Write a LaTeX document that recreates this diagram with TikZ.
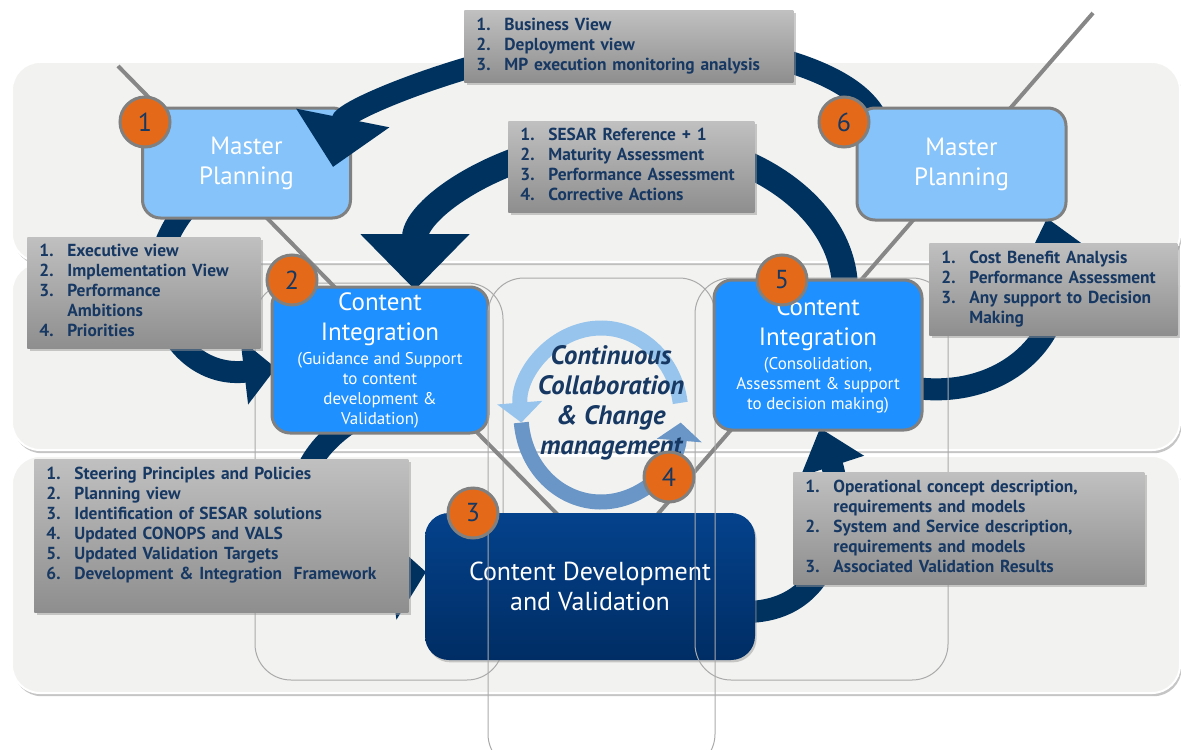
\documentclass[tikz,border=0pt]{standalone}
\usepackage{fontspec}
\setmainfont{PT Sans}
\usetikzlibrary{positioning,arrows.meta,shadows}

\definecolor{bandgray}{RGB}{242,242,240}
\definecolor{colline}{RGB}{170,170,170}
\definecolor{diaggray}{RGB}{135,135,135}
\definecolor{arrownavy}{RGB}{0,50,95}
\definecolor{mpblue}{RGB}{133,195,250}
\definecolor{ciblue}{RGB}{30,144,255}
\definecolor{cdtop}{RGB}{4,66,140}
\definecolor{cdbot}{RGB}{0,45,100}
\definecolor{badgeorange}{RGB}{228,106,26}
\definecolor{edgegray}{RGB}{128,128,128}
\definecolor{listtop}{RGB}{192,192,192}
\definecolor{listbot}{RGB}{142,142,142}
\definecolor{listtext}{RGB}{22,56,98}
\definecolor{ringlight}{RGB}{150,196,236}
\definecolor{ringdark}{RGB}{105,150,198}

\newcommand{\itemlist}[1]{\begin{tabular}{@{}p{14pt}@{}l@{}}#1\end{tabular}}
\newcommand{\subtxt}{\fontsize{8.5}{10}\selectfont}

\begin{document}
\begin{tikzpicture}[x=0.5pt, y=-0.5pt,
  band/.style={fill=bandgray, draw=white, line width=1pt, rounded corners=14pt,
    drop shadow={shadow xshift=0.8pt, shadow yshift=-1.6pt, fill=black!45}},
  column/.style={draw=colline, line width=0.5pt, rounded corners=18pt},
  diag/.style={draw=diaggray, line width=2pt},
  flow/.style={draw=arrownavy, line width=11pt},
  mpbox/.style={rounded corners=9pt, fill=mpblue, draw=edgegray, line width=1.5pt,
    text=white, font=\fontsize{12.5}{15}\selectfont, align=center, inner sep=0pt},
  cibox/.style={mpbox, fill=ciblue},
  cdbox/.style={rounded corners=12pt, top color=cdtop, bottom color=cdbot, draw=none,
    text=white, font=\fontsize{13}{15}\selectfont, align=center, inner sep=0pt,
    drop shadow={shadow xshift=0.8pt, shadow yshift=-1.2pt, fill=black!40}},
  listbox/.style={anchor=north west, top color=listtop, bottom color=listbot, draw=none,
    text=listtext, font=\bfseries\fontsize{8.7}{10}\selectfont, align=left,
    inner xsep=6pt, inner ysep=0pt,
    drop shadow={shadow xshift=1.2pt, shadow yshift=-1.2pt, fill=black!40}},
  badge/.style={circle, fill=badgeorange, draw=edgegray, line width=1.5pt,
    minimum size=25pt, inner sep=0pt, text=listtext, font=\fontsize{13}{13}\selectfont},
  cyclearrow/.style={line width=7.5pt}]
  \useasboundingbox (0,0) rectangle (1181,749);

  % background bands
  \path[band] (12,456) rectangle (1180,693);
  \path[band] (12,263) rectangle (1180,450);
  \path[band] (12,62) rectangle (1180,262);

  \draw[column] (255,283) rectangle (503,680);

  % diagonal lines
  \coordinate (d1top) at (118,66);
  \coordinate (d1bot) at (558,515);
  \coordinate (d2top) at (1093,13);
  \coordinate (d2bot) at (657,515);
  \draw[diag] (d1top) -- (d1bot);
  \draw[diag] (d2top) -- (d2bot);

  % ends of the curved arrows
  \coordinate (a1s) at (878,122);
  \coordinate (a1e) at (333,167);
  \coordinate (a2s) at (845,290);
  \coordinate (a3s) at (185,210);
  \coordinate (a3e) at (276,368);
  \coordinate (a4s) at (372,410);
  \coordinate (a4e) at (426,572);
  \coordinate (a5s) at (745,612);
  \coordinate (a5e) at (820,428);
  \coordinate (a6s) at (915,388);
  \coordinate (a6e) at (1047,218);

  \draw[flow, line width=13pt, -{Triangle[width=53pt,length=28pt]}] (a2s)
    arc[start angle=0, end angle=-180, x radius=215, y radius=150];
  \draw[flow, -{Triangle[width=32pt,length=16pt]}] (a3s) .. controls (125,285) and (175,380) .. (a3e);
  \draw[flow, -{Triangle[width=42pt,length=18pt]}] (a4s) .. controls (250,470) and (300,590) .. (a4e);
  \draw[flow, -{Triangle[width=32pt,length=20pt]}] (a5s) .. controls (840,612) and (845,505) .. (a5e);
  \draw[flow, -{Triangle[width=32pt,length=20pt]}] (a6s) .. controls (1010,400) and (1075,330) .. (a6e);

  \node[mpbox, minimum width=104pt, minimum height=55pt] (mp1) at (246.5,163) {Master\\Planning};

  \draw[flow, -{Triangle[width=46pt,length=25pt]}] (a1s) .. controls (860,75) and (765,45) .. (640,38)
    .. controls (520,38) and (345,107) .. (a1e);

  \node[mpbox, minimum width=104.5pt, minimum height=56pt] (mp6) at (961.5,164) {Master\\Planning};
  \node[cibox, minimum width=108pt, minimum height=73pt] (ci2) at (380,360)
    {Content\\Integration\\[-3pt]\subtxt (Guidance and Support\\[-5pt]\subtxt to content\\[-5pt]\subtxt development \&\\[-5pt]\subtxt Validation)};
  \node[cdbox, minimum width=165pt, minimum height=73.5pt] (cd) at (590,586.5) {Content Development\\and Validation};

  \draw[column] (488,278) rectangle (715,770);
  \draw[column] (695,278) rectangle (948,680);

  \node[cibox, minimum width=104pt, minimum height=75pt] (ci5) at (818,355)
    {Content\\Integration\\[-3pt]\subtxt (Consolidation,\\[-5pt]\subtxt Assessment \& support\\[-5pt]\subtxt to decision making)};

  % continuous collaboration cycle
  \coordinate (ringc) at (601,415);
  \path (ringc) ++(-8:80 and 87) coordinate (ringup);
  \path (ringc) ++(175:80 and 87) coordinate (ringlow);
  \draw[cyclearrow, draw=ringlight, -{Triangle[width=22pt,length=10pt]}] (ringup)
    arc[start angle=-8, end angle=-185, x radius=80, y radius=87];
  \draw[cyclearrow, draw=ringdark, -{Triangle[width=22pt,length=9pt]}] (ringlow)
    arc[start angle=175, end angle=5, x radius=80, y radius=87];
  \node[font=\bfseries\itshape\fontsize{13.3}{15}\selectfont, text=listtext, align=center] (ringtxt) at (611,403)
    {Continuous\\Collaboration\\\& Change\\management};

  % lists
  \node[listbox, text width=152.5pt, minimum height=36pt] (ltop) at (464,10)
    {\itemlist{1. & Business View\\ 2. & Deployment view\\ 3. & MP execution monitoring analysis}};
  \node[listbox, text width=111pt, minimum height=45.5pt] (lmid) at (508,121)
    {\itemlist{1. & SESAR Reference + 1\\ 2. & Maturity Assessment\\ 3. & Performance Assessment\\ 4. & Corrective Actions}};
  \node[listbox, text width=104.5pt, minimum height=55.5pt] (lleft) at (27,237)
    {\itemlist{1. & Executive view\\ 2. & Implementation View\\ 3. & Performance\\ & Ambitions\\ 4. & Priorities}};
  \node[listbox, text width=112pt, minimum height=46pt] (lright) at (929,243)
    {\itemlist{1. & Cost Benefit Analysis\\ 2. & Performance Assessment\\ 3. & Any support to Decision\\ & Making}};
  \node[listbox, text width=175pt, minimum height=76.5pt] (lbotleft) at (34,459)
    {\itemlist{1. & Steering Principles and Policies\\ 2. & Planning view\\ 3. & Identification of SESAR solutions\\ 4. & Updated CONOPS and VALS\\ 5. & Updated Validation Targets\\ 6. & Development \& Integration\ \ Framework\\ & }};
  \node[listbox, text width=163.5pt, minimum height=56pt] (lbotright) at (793,472)
    {\itemlist{1. & Operational concept description,\\ & requirements and models\\ 2. & System and Service description,\\ & requirements and models\\ 3. & Associated Validation Results}};

  % step numbers
  \node[badge] (b1) at (145,122) {1};
  \node[badge] (b2) at (292,280) {2};
  \node[badge] (b3) at (473,513) {3};
  \node[badge] (b4) at (669,477) {4};
  \node[badge] (b5) at (782,280) {5};
  \node[badge] (b6) at (844,122) {6};
\end{tikzpicture}
\end{document}
